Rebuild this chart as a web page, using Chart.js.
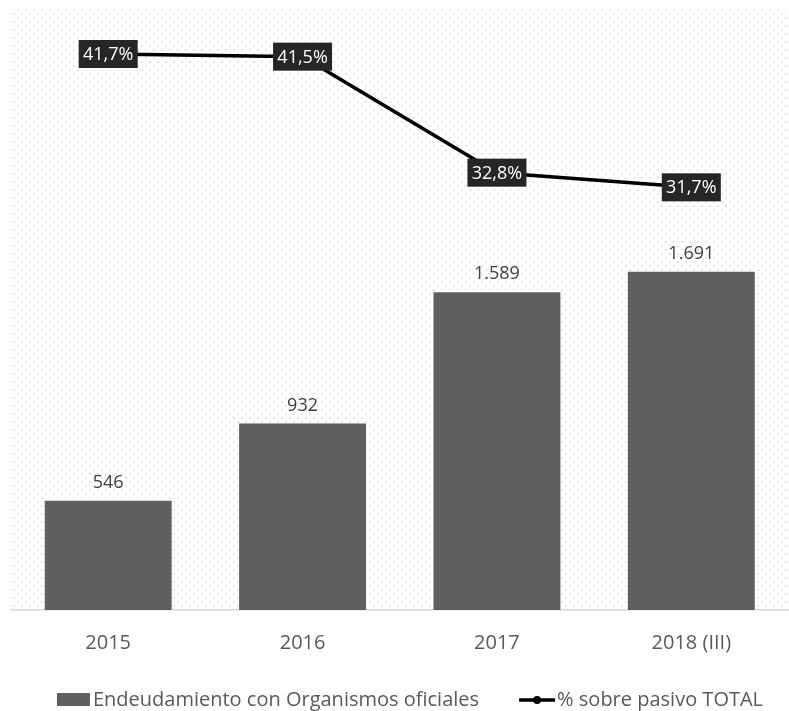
<!DOCTYPE html>
<html>
<head>
<meta charset="utf-8">
<script src="https://cdn.jsdelivr.net/npm/chart.js@4/dist/chart.umd.min.js"></script>
<style>
  html, body { margin: 0; padding: 0; background: #fff; overflow: hidden; }
  #wrap { width: 796px; height: 711px; }
</style>
</head>
<body>
<div id="wrap"><canvas id="deudaChart"></canvas></div>
<script>
const years = ["2015", "2016", "2017", "2018 (III)"];
const deuda = [546, 932, 1589, 1691];          // millones
const pctPasivo = [41.7, 41.5, 32.8, 31.7];     // % sobre pasivo total

const barLabel = "Endeudamiento con Organismos oficiales";
const lineLabel = "% sobre pasivo TOTAL";

const FONT = "'Open Sans', 'Noto Sans', sans-serif";
const BAR_COLOR = "#5f5f5f";
const TEXT_COLOR = "#595959";

// light dotted texture behind the plot
function dotPattern(ctx) {
  const tile = document.createElement("canvas");
  tile.width = 8; tile.height = 8;
  const t = tile.getContext("2d");
  t.fillStyle = "#fff";
  t.fillRect(0, 0, 8, 8);
  t.fillStyle = "#e6e6e6";
  t.fillRect(1, 1, 2, 2);
  t.fillRect(5, 5, 2, 2);
  return ctx.createPattern(tile, "repeat");
}

const fmtMiles = v => String(v).replace(/\B(?=(\d{3})+(?!\d))/g, ".");
const fmtPct = v => v.toFixed(1).replace(".", ",") + "%";

const backgroundPlugin = {
  id: "dots",
  beforeDraw(chart) {
    const { ctx, chartArea: a } = chart;
    ctx.save();
    ctx.fillStyle = dotPattern(ctx);
    ctx.fillRect(a.left, a.top, a.right - a.left, a.bottom - a.top);
    ctx.restore();
  }
};

const labelsPlugin = {
  id: "valueLabels",
  afterDatasetsDraw(chart) {
    const ctx = chart.ctx;
    ctx.save();
    ctx.textAlign = "center";
    ctx.textBaseline = "middle";

    // bar values
    ctx.font = "18px " + FONT;
    ctx.fillStyle = "#404040";
    chart.getDatasetMeta(0).data.forEach((bar, i) => {
      ctx.fillText(fmtMiles(deuda[i]), bar.x, bar.y - 18);
    });

    // percentage boxes on the line
    chart.getDatasetMeta(1).data.forEach((pt, i) => {
      const w = 59, h = 28;
      ctx.fillStyle = "#262626";
      ctx.fillRect(pt.x - w / 2, pt.y - h / 2, w, h);
      ctx.fillStyle = "#ffffff";
      ctx.fillText(fmtPct(pctPasivo[i]), pt.x, pt.y + 1);
    });
    ctx.restore();
  }
};

const legendPlugin = {
  id: "bottomLegend",
  afterDraw(chart) {
    const ctx = chart.ctx;
    const y = 700;
    ctx.save();
    ctx.font = "20px " + FONT;
    ctx.textBaseline = "middle";
    ctx.textAlign = "left";
    const w1 = ctx.measureText(barLabel).width;
    const w2 = ctx.measureText(lineLabel).width;
    const total = 33 + 3 + w1 + 40 + 36 + 2 + w2;
    let x = 410 - total / 2;

    ctx.fillStyle = BAR_COLOR;
    ctx.fillRect(x, y - 7, 33, 13);
    x += 36;
    ctx.fillStyle = TEXT_COLOR;
    ctx.fillText(barLabel, x, y);
    x += w1 + 40;

    ctx.strokeStyle = "#000";
    ctx.lineWidth = 3.5;
    ctx.beginPath();
    ctx.moveTo(x, y);
    ctx.lineTo(x + 36, y);
    ctx.stroke();
    ctx.fillStyle = "#000";
    ctx.beginPath();
    ctx.arc(x + 18, y, 4, 0, Math.PI * 2);
    ctx.fill();
    x += 38;
    ctx.fillStyle = TEXT_COLOR;
    ctx.fillText(lineLabel, x, y);
    ctx.restore();
  }
};

new Chart(document.getElementById("deudaChart"), {
  data: {
    labels: years,
    datasets: [{
      type: "bar",
      label: barLabel,
      data: deuda,
      backgroundColor: BAR_COLOR,
      categoryPercentage: 1,
      barPercentage: 0.653,
      yAxisID: "y",
      order: 2
    }, {
      type: "line",
      label: lineLabel,
      data: pctPasivo,
      borderColor: "#000",
      backgroundColor: "#000",
      borderWidth: 3.5,
      pointRadius: 4,
      tension: 0,
      yAxisID: "y2",
      order: 1
    }]
  },
  options: {
    responsive: true,
    maintainAspectRatio: false,
    animation: false,
    layout: { padding: { top: 10, left: 11, right: 0, bottom: 43 } },
    plugins: {
      legend: { display: false },
      tooltip: { enabled: false }
    },
    scales: {
      x: {
        grid: { display: false },
        border: { color: "#d9d9d9", width: 1.5 },
        ticks: { color: TEXT_COLOR, font: { family: FONT, size: 20 }, padding: 13 }
      },
      y: { display: false, min: 0, max: 3000 },
      y2: { display: false, min: 0, max: 45, position: "right" }
    }
  },
  plugins: [backgroundPlugin, labelsPlugin, legendPlugin]
});
</script>
</body>
</html>
